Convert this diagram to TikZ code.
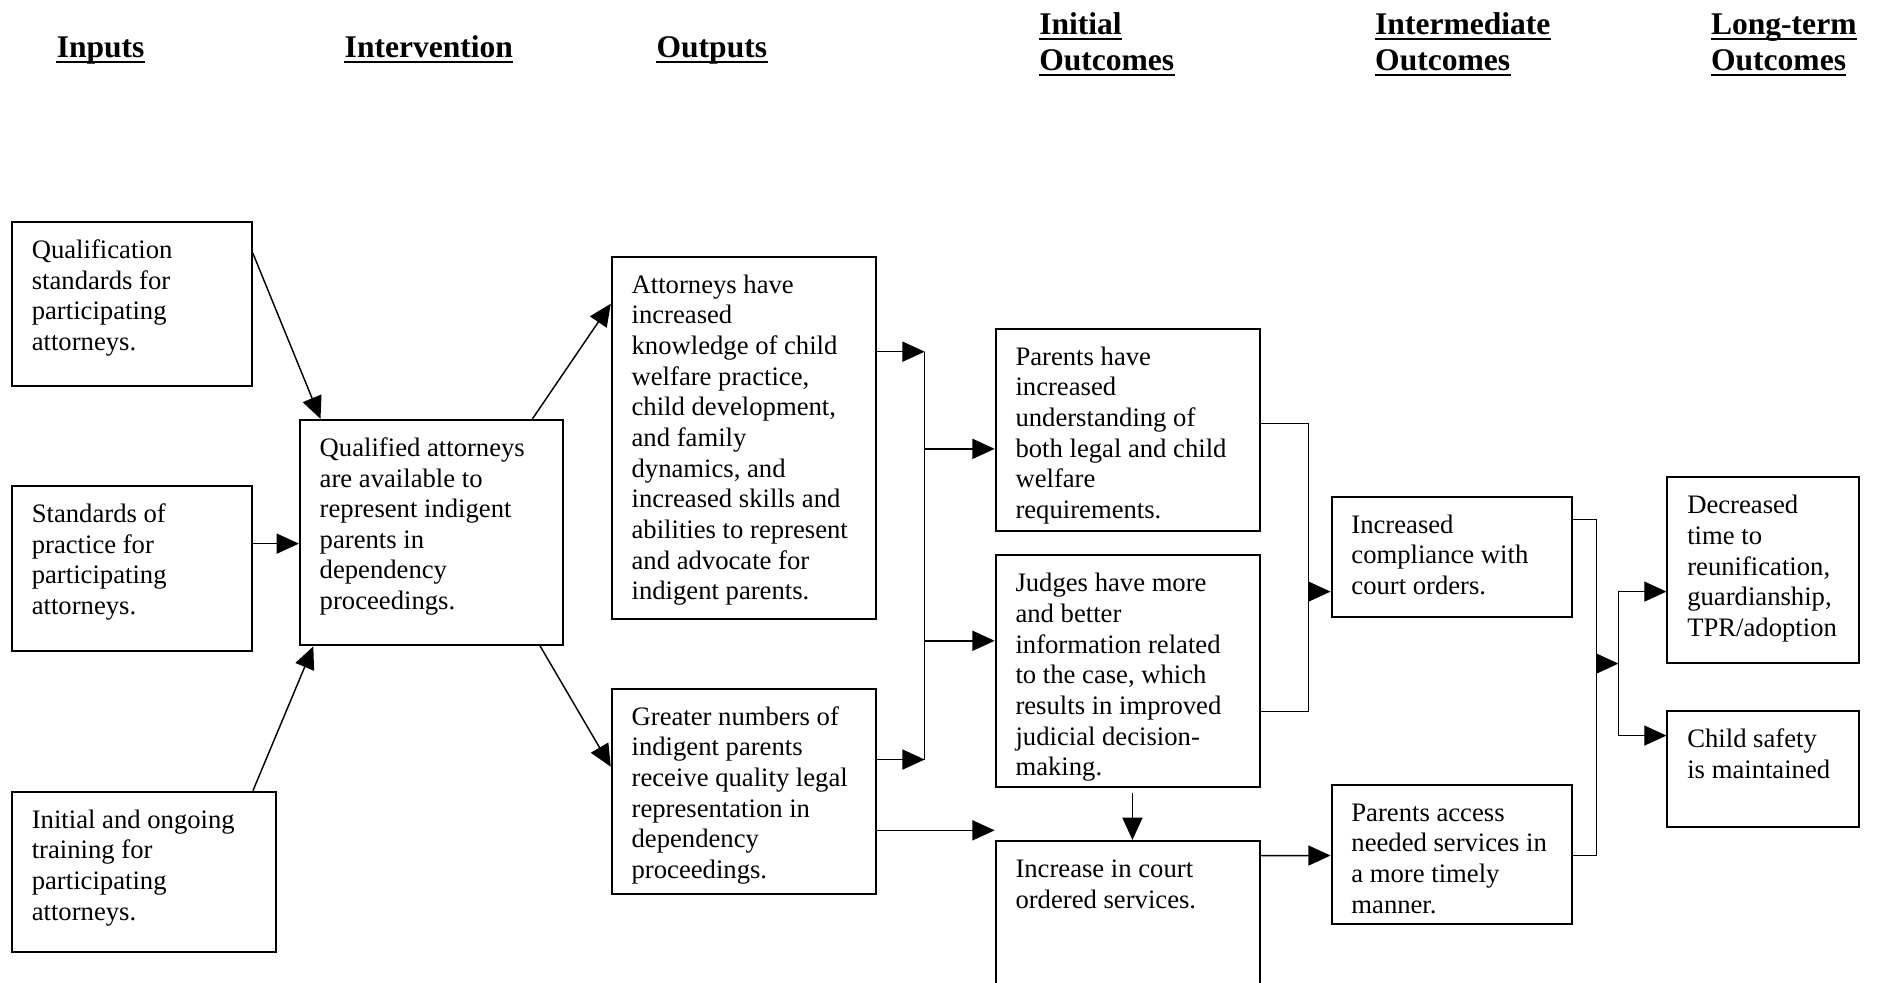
\documentclass[tikz,border=0pt]{standalone}
\usepackage{fontspec}
\setmainfont{Liberation Serif}
\usetikzlibrary{arrows.meta,fit,calc}
\begin{document}
\begin{tikzpicture}[x=0.54pt,y=-0.54pt,
  frame/.style={draw, line width=0.9pt, inner sep=0pt},
  body/.style={anchor=north west, inner sep=0pt, align=left,
    font=\fontsize{12}{13.8}\selectfont},
  head/.style={anchor=base west, inner sep=0pt,
    font=\fontsize{14.2}{16}\selectfont\bfseries},
  uline/.style={line width=1.1pt},
  link/.style={line width=0.65pt},
  arr/.style={link, -{Triangle[length=10pt,width=9pt]}},
]
\useasboundingbox (0,0) rectangle (1568,819);

% column headings
\foreach \nm/\x/\y/\t in {hin/47/48/Inputs, hiv/287/48/Intervention, hout/547/48/Outputs,
    hio/866/29/Initial, hio2/866/59/Outcomes, hmo/1146/29/Intermediate,
    hmo2/1146/59/Outcomes, hlo/1426/29/Long-term, hlo2/1426/59/Outcomes}{
  \node[head] (\nm) at (\x,\y) {\t};
  \draw[uline] ($(\nm.base west)+(0,3.5)$) -- ($(\nm.base east)+(0,3.5)$);
}

% boxes: frame, then its text
\newcommand\lmbox[6]{%
  \node[frame, fit={(#2,#3) (#4,#5)}] (#1) {};
  \node[body] (#1t) at ($(#1.north west)+(17,13)$) {\strut #6};
}
\lmbox{q1}{10}{185}{210}{322}{Qualification\\standards for\\participating\\attorneys.}
\lmbox{std}{10}{405}{210}{543}{Standards of\\practice for\\participating\\attorneys.}
\lmbox{trn}{10}{660}{230}{794}{Initial and ongoing\\training for\\participating\\attorneys.}
\lmbox{intv}{250}{350}{469}{538}{Qualified attorneys\\are available to\\represent indigent\\parents in\\dependency\\proceedings.}
\lmbox{att}{510}{214}{730}{516}{Attorneys have\\increased\\knowledge of child\\welfare practice,\\child development,\\and family\\dynamics, and\\increased skills and\\abilities to represent\\and advocate for\\indigent parents.}
\lmbox{grt}{510}{574}{730}{745}{Greater numbers of\\indigent parents\\receive quality legal\\representation in\\dependency\\proceedings.}
\lmbox{par}{830}{274}{1050}{443}{Parents have\\increased\\understanding of\\both legal and child\\welfare\\requirements.}
\lmbox{jdg}{830}{463}{1050}{656}{Judges have more\\and better\\information related\\to the case, which\\results in improved\\judicial decision-\\making.}
\lmbox{inc}{830}{701}{1050}{840}{Increase in court\\ordered services.}
\lmbox{cmp}{1110}{414}{1310}{514}{Increased\\compliance with\\court orders.}
\lmbox{acc}{1110}{654}{1310}{770}{Parents access\\needed services in\\a more timely\\manner.}
\lmbox{dec}{1390}{398}{1550}{553}{Decreased\\time to\\reunification,\\guardianship,\\TPR/adoption}
\lmbox{chd}{1390}{593}{1550}{689}{Child safety\\is maintained}

% inputs -> intervention
\draw[arr] ($(q1.north east)+(0,27)$) -- ($(intv.north west)+(18,0)$);
\draw[arr] ($(std.north east)+(0,49)$) -- ($(intv.north west)+(0,104)$);
\draw[arr] ($(trn.north east)+(-20,0)$) -- ($(intv.south west)+(12,0)$);

% intervention -> outputs
\draw[arr] ($(intv.north east)+(-26,0)$) -- ($(att.north west)+(0,40)$);
\draw[arr] ($(intv.south east)+(-20,-1)$) -- ($(grt.north west)+(0,66)$);

% outputs -> initial outcomes
\coordinate (busA1) at ($(att.north east)+(40,80)$);
\coordinate (busA2) at ($(grt.north east)+(40,60)$);
\draw[arr] ($(att.north east)+(0,80)$) -- (busA1);
\draw[arr] ($(grt.north east)+(0,60)$) -- (busA2);
\draw[link] (busA1) -- (busA2);
\draw[arr] (busA1 |- {$(par.north west)+(0,101)$}) -- ($(par.north west)+(0,101)$);
\draw[arr] (busA1 |- {$(jdg.north west)+(0,72)$}) -- ($(jdg.north west)+(0,72)$);
\draw[arr] ($(grt.north east)+(0,119)$) -- ($(inc.north west)+(0,-8)$);
\draw[arr] ($(jdg.south)+(4,4)$) -- ($(inc.north)+(4,0)$);

% initial -> intermediate outcomes
\coordinate (busB1) at ($(par.north east)+(40,80)$);
\coordinate (busB2) at ($(jdg.north east)+(40,131)$);
\draw[link] ($(par.north east)+(0,80)$) -- (busB1) -- (busB2) -- ($(jdg.north east)+(0,131)$);
\draw[arr] (busB1 |- {$(cmp.north west)+(0,80)$}) -- ($(cmp.north west)+(0,80)$);
\draw[arr] ($(inc.north east)+(0,13)$) -- ($(acc.north west)+(0,60)$);

% intermediate -> long-term outcomes
\coordinate (busC1) at ($(cmp.north east)+(20,20)$);
\coordinate (busC2) at ($(acc.north east)+(20,60)$);
\draw[link] ($(cmp.north east)+(0,20)$) -- (busC1) -- (busC2) -- ($(acc.north east)+(0,60)$);
\coordinate (fork) at ($(dec.north west)+(-40,156)$);
\draw[arr] (busC1 |- fork) -- (fork);
\draw[arr] (fork) |- ($(dec.north west)+(0,96)$);
\draw[arr] (fork) |- ($(chd.north west)+(0,21)$);
\end{tikzpicture}
\end{document}
